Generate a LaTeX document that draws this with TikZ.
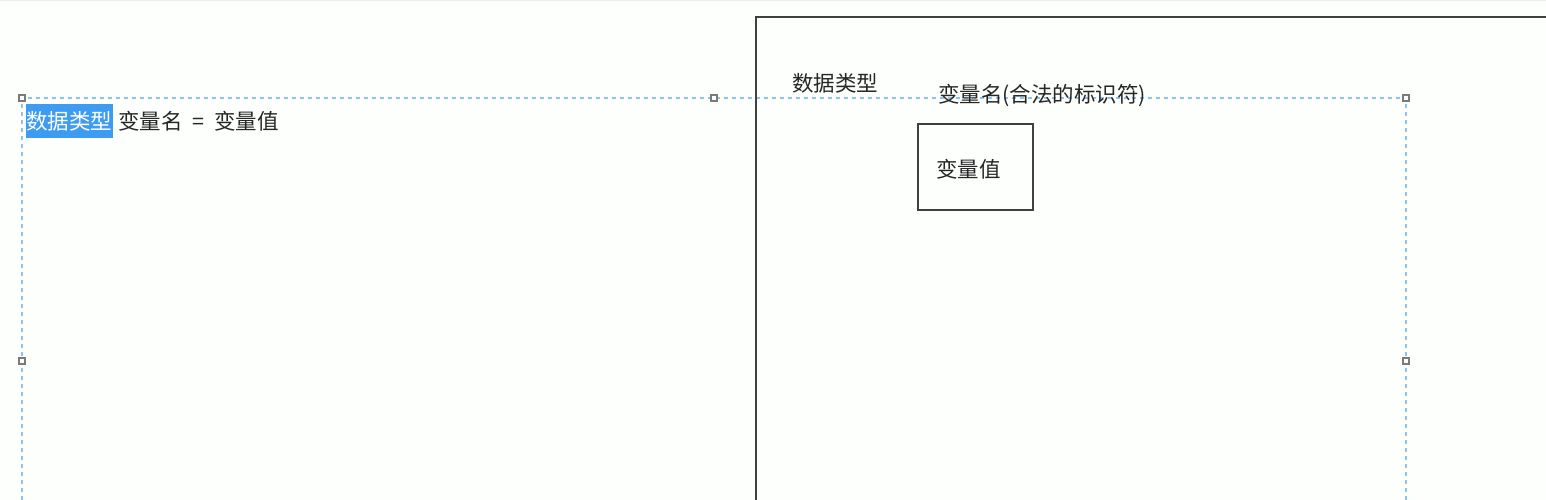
\documentclass[tikz,border=0pt]{standalone}
\usepackage{fontspec}
\newfontfamily\cjk{Noto Sans CJK SC}
\definecolor{selblue}{HTML}{8EC3EE}
\definecolor{hilite}{HTML}{3D9BF2}
\definecolor{handlegray}{HTML}{7A7A7A}
\definecolor{boxline}{HTML}{404040}
\definecolor{txt}{HTML}{262626}
\begin{document}
\begin{tikzpicture}[x=1pt,y=-1pt,
  seldash/.style={draw=selblue,line width=1.4pt,dash pattern=on 4pt off 4pt},
  handlebox/.style={draw=handlegray,fill=white,line width=1.2pt,minimum size=6pt,inner sep=0pt,rectangle},
  label/.style={font=\cjk\fontsize{21.5}{24}\selectfont,text=txt,inner sep=0pt,anchor=west},
  frame/.style={draw=boxline,line width=1.3pt}]
\fill[white!98!green!50!white] (0,0) rectangle (1546,500);
\useasboundingbox (0,0) rectangle (1546,500);
\draw[black!8,line width=1pt] (0,1) -- (1546,1);
% selection box
\coordinate (s1) at (22,500);
\coordinate (s2) at (22,98);
\coordinate (s3) at (1406,98);
\coordinate (s4) at (1406,500);
\draw[seldash] (s1) -- (s2) -- (s3) -- (s4);
\node[handlebox] (h1) at (22,98) {};
\node[handlebox] (h2) at (714,98) {};
\node[handlebox] (h3) at (1406,98) {};
\node[handlebox] (h4) at (22,361) {};
\node[handlebox] (h5) at (1406,361) {};
% left text
\node[label,fill=hilite,text=white,inner xsep=0.5pt,minimum height=33pt] (dt) at (25.5,121) {数据类型};
\node[label] (expr) at (118,121) {变量名\hspace{5pt} = \hspace{5pt}变量值};
% right frame
\coordinate (f1) at (756,500);
\coordinate (f2) at (756,17);
\coordinate (f3) at (1546,17);
\draw[frame] (f1) -- (f2) -- (f3);
\node[label] (rdt) at (792,83) {数据类型};
\node[label] (rname) at (938,95) {变量名(合法的标识符)};
\node[frame,minimum width=115pt,minimum height=86pt,inner sep=0pt] (vbox) at (975.5,167) {};
\node[label] (val) at (936,169) {变量值};
\end{tikzpicture}
\end{document}
